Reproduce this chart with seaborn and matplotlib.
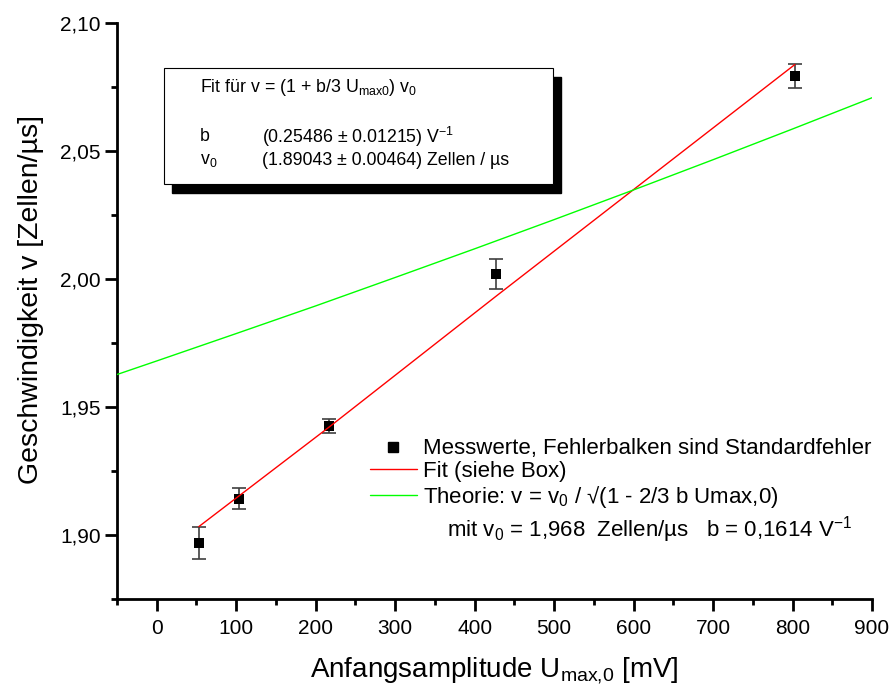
import matplotlib
matplotlib.use("Agg")
import matplotlib.pyplot as plt
from matplotlib.lines import Line2D
from matplotlib.patches import Rectangle
from matplotlib.ticker import MultipleLocator, FuncFormatter
import pandas as pd
import seaborn as sns

# Measured initial amplitudes [mV], speeds [cells/us] and standard errors
amplitude_mv = [53, 103, 217, 427, 803]
speed = [1.8969, 1.9142, 1.9427, 2.0020, 2.0793]
speed_err = [0.0061, 0.0042, 0.0028, 0.0060, 0.0048]

# Linear fit curve (see box)
fit_mv = [53, 217, 427, 803]
fit_speed = [1.9033, 1.9422, 1.9933, 2.0838]

# Theory curve v = v0 / sqrt(1 - 2/3 b U)
theory_mv = [-50, 0, 100, 200, 300, 400, 500, 600, 700, 800, 900]
theory_speed = [1.9627, 1.9680, 1.9787, 1.9895, 2.0006, 2.0118, 2.0232,
                2.0348, 2.0466, 2.0586, 2.0708]

x_ticks = [0, 100, 200, 300, 400, 500, 600, 700, 800, 900]
y_ticks = [1.90, 1.95, 2.00, 2.05, 2.10]

points = pd.DataFrame({"U": amplitude_mv, "v": speed, "err": speed_err})
fit = pd.DataFrame({"U": fit_mv, "v": fit_speed})
theory = pd.DataFrame({"U": theory_mv, "v": theory_speed})

sns.set_style("ticks")
plt.rcParams["font.family"] = ["Liberation Sans", "DejaVu Sans"]
plt.rcParams["mathtext.fontset"] = "custom"
plt.rcParams["mathtext.rm"] = "Liberation Sans"
plt.rcParams["mathtext.it"] = "Liberation Sans"
plt.rcParams["mathtext.default"] = "regular"
for key in ("text.color", "axes.labelcolor", "xtick.color", "ytick.color",
            "axes.edgecolor"):
    plt.rcParams[key] = "black"

fig = plt.figure(figsize=(8.94, 6.93), dpi=100)
ax = fig.add_axes([0.1309, 0.1356, 0.8445, 0.8312])

ax.errorbar(points["U"], points["v"], yerr=points["err"], fmt="none",
            ecolor="#404040", elinewidth=1.2, capsize=4.7, capthick=1.2,
            zorder=2)
sns.scatterplot(data=points, x="U", y="v", marker="s", s=55, color="black",
                edgecolor="black", linewidth=0, zorder=3, ax=ax, legend=False)
sns.lineplot(data=fit, x="U", y="v", color="#ff0000", lw=1.0, sort=False,
             estimator=None, zorder=4, ax=ax)
sns.lineplot(data=theory, x="U", y="v", color="#00ff00", lw=1.0, sort=False,
             estimator=None, zorder=4, ax=ax)

ax.set_xlim(-50, 900)
ax.set_ylim(1.875, 2.10)
ax.set_xticks(x_ticks)
ax.set_yticks(y_ticks)
ax.xaxis.set_minor_locator(MultipleLocator(50))
ax.yaxis.set_minor_locator(MultipleLocator(0.025))
ax.xaxis.set_major_formatter(FuncFormatter(lambda v, p: f"{v:.0f}"))
ax.yaxis.set_major_formatter(FuncFormatter(lambda v, p: f"{v:.2f}".replace(".", ",")))

for side in ("top", "right"):
    ax.spines[side].set_visible(False)
for side in ("left", "bottom"):
    ax.spines[side].set_linewidth(2.0)
    ax.spines[side].set_color("black")

ax.tick_params(which="major", length=8.6, width=2.0, color="black",
               labelsize=15, direction="out")
ax.tick_params(which="minor", length=4.3, width=2.0, color="black",
               direction="out")
ax.tick_params(axis="x", which="major", pad=6)
ax.tick_params(axis="y", which="major", pad=3)

ax.set_xlabel("Anfangsamplitude U$_{max{,}0}$ [mV]", fontsize=20)
ax.set_ylabel("Geschwindigkeit v [Zellen/µs]", fontsize=20.5)
ax.xaxis.set_label_coords(0.5, -0.098)
ax.yaxis.set_label_coords(-0.097, 0.52)

# Legend without frame
handles = [
    Line2D([], [], marker="s", color="black", linestyle="none", markersize=7.5),
    Line2D([], [], color="#ff0000", lw=1.0),
    Line2D([], [], color="#00ff00", lw=1.0),
]
labels = [
    "Messwerte, Fehlerbalken sind Standardfehler",
    "Fit (siehe Box)",
    "Theorie: v = v$_0$ / √(1 - 2/3 b Umax,0)",
]
ax.legend(handles, labels, loc="upper left", bbox_to_anchor=(0.335, 0.279),
          frameon=False, fontsize=16, handlelength=2.1, handletextpad=0.27,
          labelspacing=0.08, borderpad=0, borderaxespad=0)
ax.text(0.437, 0.12, "mit v$_0$ = 1,968  Zellen/µs   b = 0,1614 V$^{-1}$",
        transform=ax.transAxes, fontsize=16, va="center", ha="left")

# Fit parameter box with drop shadow
bx0, by0, bw, bh = 0.1834, 0.7345, 0.4352, 0.1674
fig.patches.append(Rectangle((bx0 + 0.009, by0 - 0.013), bw, bh,
                             transform=fig.transFigure, facecolor="black",
                             edgecolor="black", zorder=5))
fig.patches.append(Rectangle((bx0, by0), bw, bh, transform=fig.transFigure,
                             facecolor="white", edgecolor="black", lw=0.8,
                             zorder=6))
fig.text(0.2237, 0.874, "Fit für v = (1 + b/3 U$_{max0}$) v$_0$",
         fontsize=12.8, va="center", ha="left", zorder=7)
fig.text(0.2237, 0.803, "b", fontsize=12.8, va="center", ha="left", zorder=7)
fig.text(0.2931, 0.803, "(0.25486 ± 0.01215) V$^{-1}$", fontsize=12.8,
         va="center", ha="left", zorder=7)
fig.text(0.2237, 0.768, "v$_0$", fontsize=12.8, va="center", ha="left", zorder=7)
fig.text(0.2931, 0.768, "(1.89043 ± 0.00464) Zellen / µs", fontsize=12.8,
         va="center", ha="left", zorder=7)

fig.savefig("out.png", dpi=100)
